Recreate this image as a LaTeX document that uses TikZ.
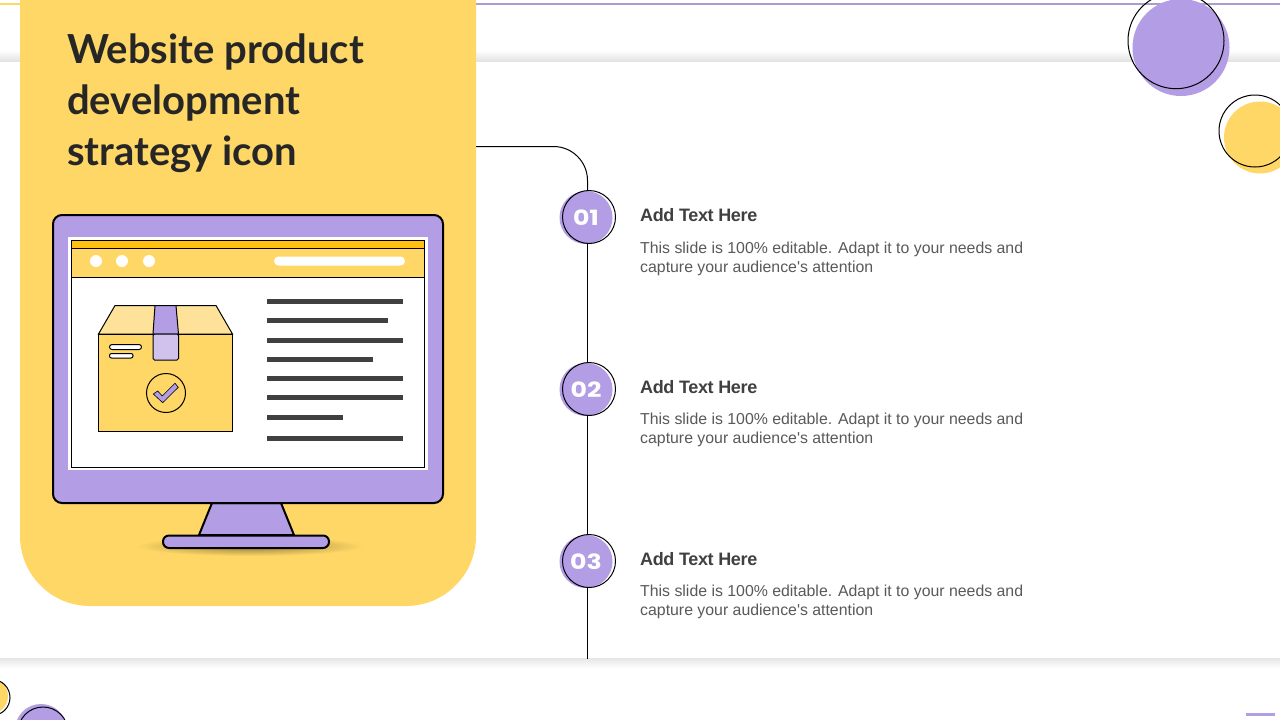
\documentclass[tikz,border=0pt]{standalone}
\usepackage{fontspec}
\setmainfont{Liberation Sans}
\newfontfamily\bodyfont{Liberation Sans}
\newfontfamily\titlefont{Lato}
\newfontfamily\headfont[LetterSpace=-2]{Liberation Sans}
\newfontfamily\numfont[FakeStretch=1.2]{Poppins}
\definecolor{lilac}{HTML}{B39DE5}
\definecolor{lilacpale}{HTML}{D1C1ED}
\definecolor{sun}{HTML}{FFD766}
\definecolor{sunpale}{HTML}{FFE29A}
\definecolor{amber}{HTML}{FFC012}
\definecolor{inkbar}{HTML}{404040}
\definecolor{bodygrey}{HTML}{595959}
\definecolor{topline}{HTML}{AB9CCB}
\tikzset{
	numdisc/.style={circle,fill=lilac,minimum size=53pt,inner sep=0pt,text=white,font=\numfont\bfseries\fontsize{21}{21}\selectfont},
	numring/.style={circle,draw=black,line width=1pt,minimum size=53pt,inner sep=0pt},
	titletext/.style={anchor=base west,inner sep=0pt,text=black!85,font=\titlefont\bfseries\fontsize{40}{51}\selectfont},
	headtext/.style={anchor=base west,inner sep=0pt,text=inkbar,font=\headfont\bfseries\fontsize{18}{18}\selectfont},
	bodytext/.style={anchor=north west,inner sep=0pt,align=left,text=bodygrey,font=\bodyfont\fontsize{15.85}{19.2}\selectfont},
	textbar/.style={inkbar,line width=5pt},
	iconline/.style={draw=black,line width=1pt},
	trunk/.style={draw=black,line width=1pt},
}
\begin{document}
\begin{tikzpicture}[x=1pt,y=-1pt]
	\path[clip,use as bounding box] (0,0) rectangle (1280,720);
	\fill[white] (0,0) rectangle (1280,720);
	% shadow bands
	\shade[top color=white,bottom color=black!11] (0,50) rectangle (1280,61);
	\shade[top color=black!10,bottom color=white] (0,658) rectangle (1280,668);
	\draw[sun,line width=2pt] (0,3.5) -- (476,3.5);
	\draw[topline,line width=2pt] (476,3.5) -- (1280,3.5);
	\fill[lilac] (1246,713) rectangle (1275,716);
	% corner circles
	\fill[lilac] (1181,47.5) circle (48.5);
	\draw[line width=1pt] (1176,40.7) circle (48);
	\fill[sun] (1260,137.5) circle (36);
	\draw[line width=1pt] (1255,131) circle (36);
	\fill[sun] (-10,696) circle (18);
	\draw[line width=1pt] (-8,697.5) circle (18);
	\fill[lilac] (41,730) circle (26);
	\draw[line width=1pt] (43,732) circle (25);
	% panel
	\node[fill=sun,rectangle,rounded corners=70pt,minimum width=456pt,minimum height=706pt,inner sep=0pt] (panel) at (248,253) {};
	\node[titletext] (titlea) at (67,63) {Website product};
	\node[titletext] (titleb) at (67,114) {development};
	\node[titletext] (titlec) at (67,165) {strategy icon};
	% monitor
	\shade[inner color=black!42!sun,outer color=sun] (250,546) ellipse (113 and 10);
	\draw[line width=2pt,fill=lilac] (212,503) -- (199,535) -- (294,535) -- (281,503) -- cycle;
	\draw[line width=2pt,fill=lilac,rounded corners=6pt] (163,535.5) rectangle (329,548);
	\draw[line width=2pt,fill=lilac,rounded corners=9pt] (53,215) rectangle (443,503);
	\fill[white] (68,237) rectangle (427.5,470);
	\draw[line width=1pt] (71,240.5) rectangle (424.5,467.5);
	\draw[fill=sun,line width=.6pt] (71,248) rectangle (424.5,277);
	\draw[fill=amber,line width=1pt] (71,240.5) rectangle (424.5,248);
	\fill[white] (96,261) circle (6);
	\fill[white] (122,261) circle (6);
	\fill[white] (149,261) circle (6);
	\fill[white,rounded corners=4.5pt] (274,256.5) rectangle (405,265.5);
	% text bars
	\draw[textbar] (267,301.5) -- (403,301.5);
	\draw[textbar] (267,320.5) -- (388,320.5);
	\draw[textbar] (267,340) -- (403,340);
	\draw[textbar] (267,359) -- (373,359);
	\draw[textbar] (267,378.5) -- (403,378.5);
	\draw[textbar] (267,397.5) -- (403,397.5);
	\draw[textbar] (267,417) -- (343,417);
	\draw[textbar] (267,438.5) -- (403,438.5);
	% box
	\draw[iconline,fill=sunpale] (98.5,334) -- (115,305.5) -- (216,305.5) -- (232.5,334) -- cycle;
	\draw[iconline,fill=sun] (98.5,334) rectangle (232.5,431.5);
	\draw[iconline,fill=lilac] (155,305.5) -- (176,305.5) -- (178.5,334) -- (153,334) -- cycle;
	\draw[iconline,fill=lilacpale,rounded corners=1.5pt] (153,334) -- (153,360) -- (178.5,360) -- (178.5,334) -- cycle;
	\draw[iconline,fill=white,rounded corners=2.5pt] (109.5,344.5) rectangle (141.5,349.5);
	\draw[iconline,fill=white,rounded corners=2pt] (109.5,353.5) rectangle (133,358);
	\draw[iconline] (166,393) circle (19.5);
	\draw[line width=.6pt,fill=lilac] (153.3,394) -- (157.7,391) -- (162.3,396) -- (175,383.3) -- (178.3,387.3) -- (162.7,402.7) -- cycle;
	% timeline
	\node[numdisc] (disca) at (586,217.5) {01};
	\node[numdisc] (discb) at (586,389.5) {02};
	\node[numdisc] (discc) at (586,561.5) {03};
	\node[numring] (ringa) at (589,217) {};
	\node[numring] (ringb) at (589,389) {};
	\node[numring] (ringc) at (589,561) {};
	\coordinate (elbow) at (476,146.5);
	\coordinate (trunkend) at (587.5,659);
	\draw[trunk,rounded corners=34pt] (elbow) -| ([xshift=-1.5pt]ringa.north);
	\draw[trunk] ([xshift=-1.5pt]ringa.south) -- ([xshift=-1.5pt]ringb.north);
	\draw[trunk] ([xshift=-1.5pt]ringb.south) -- ([xshift=-1.5pt]ringc.north);
	\draw[trunk] ([xshift=-1.5pt]ringc.south) -- (trunkend);
	% texts
	\node[headtext] (heada) at (640,221.5) {Add Text Here};
	\node[bodytext] (bodya) at (640,241.5) {This slide is 100\% editable. Adapt it to your needs and\\capture your audience's attention};
	\node[headtext] (headb) at (640,393.5) {Add Text Here};
	\node[bodytext] (bodyb) at (640,412.5) {This slide is 100\% editable. Adapt it to your needs and\\capture your audience's attention};
	\node[headtext] (headc) at (640,565.5) {Add Text Here};
	\node[bodytext] (bodyc) at (640,584.5) {This slide is 100\% editable. Adapt it to your needs and\\capture your audience's attention};
\end{tikzpicture}
\end{document}
